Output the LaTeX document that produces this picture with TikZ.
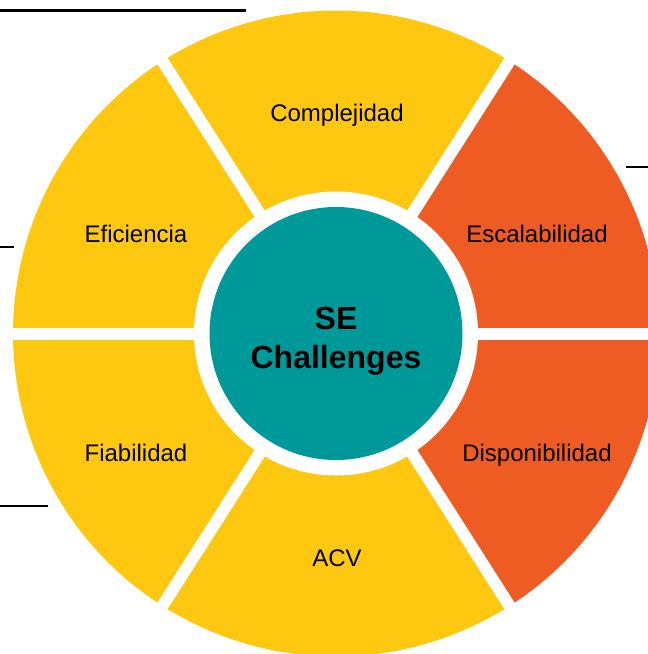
\documentclass[tikz,border=0pt]{standalone}
\usepackage{fontspec}
\setmainfont{Liberation Sans}
\usetikzlibrary{positioning}

\definecolor{segyellow}{RGB}{254,200,16}
\definecolor{segorange}{RGB}{238,92,36}
\definecolor{coreteal}{RGB}{0,153,153}

\begin{document}
\begin{tikzpicture}[x=0.5pt, y=-0.5pt,
  seglabel/.style={font=\fontsize{12}{14}\selectfont, anchor=base, inner sep=0pt},
  gap/.style={white, line width=6pt},
  rule/.style={black, line width=1.1pt}]

\clip (0,0) rectangle (648,654);

% Centre of the wheel
\coordinate (hub) at (336,333.5);

% Outer segments
\foreach \a/\b/\c in {57.5/122.5/segyellow, 122.5/180/segyellow, 180/237.5/segyellow,
                      237.5/302.5/segyellow, 302.5/360/segorange, 0/57.5/segorange}
  \fill [\c] (hub) -- ++(\a:323) arc [start angle=\a, end angle=\b, radius=323] -- cycle;

% White gaps between segments
\foreach \a in {0,57.5,122.5,180,237.5,302.5}
  \draw [gap] (hub) -- ++(\a:340);

% White ring and core
\fill [white] (hub) circle [radius=142];
\node [circle, fill=coreteal, minimum size=126.5pt, inner sep=0pt] (core) at (hub) {};
\node [align=center, inner sep=0pt, font=\bfseries\fontsize{16}{19.75}\selectfont]
  (coretitle) at (336,341) {SE\\Challenges};

% Segment labels
\node [seglabel] (complejidad) at (337,121.7) {Complejidad};
\node [seglabel] (eficiencia) at (136,242.5) {Eficiencia};
\node [seglabel] (escalabilidad) at (537,242) {Escalabilidad};
\node [seglabel] (fiabilidad) at (136,461) {Fiabilidad};
\node [seglabel] (disponibilidad) at (537,461) {Disponibilidad};
\node [seglabel] (acv) at (337,566.7) {ACV};

% Short rules at the edges
\coordinate (rule1a) at (0,10.5);
\coordinate (rule1b) at (246,10.5);
\coordinate (rule2a) at (626,167.3);
\coordinate (rule2b) at (660,167.3);
\coordinate (rule3a) at (0,246.7);
\coordinate (rule3b) at (14,246.7);
\coordinate (rule4a) at (0,505.7);
\coordinate (rule4b) at (48,505.7);
\foreach \i in {1,...,4}
  \draw [rule] (rule\i a) -- (rule\i b);

\end{tikzpicture}
\end{document}
